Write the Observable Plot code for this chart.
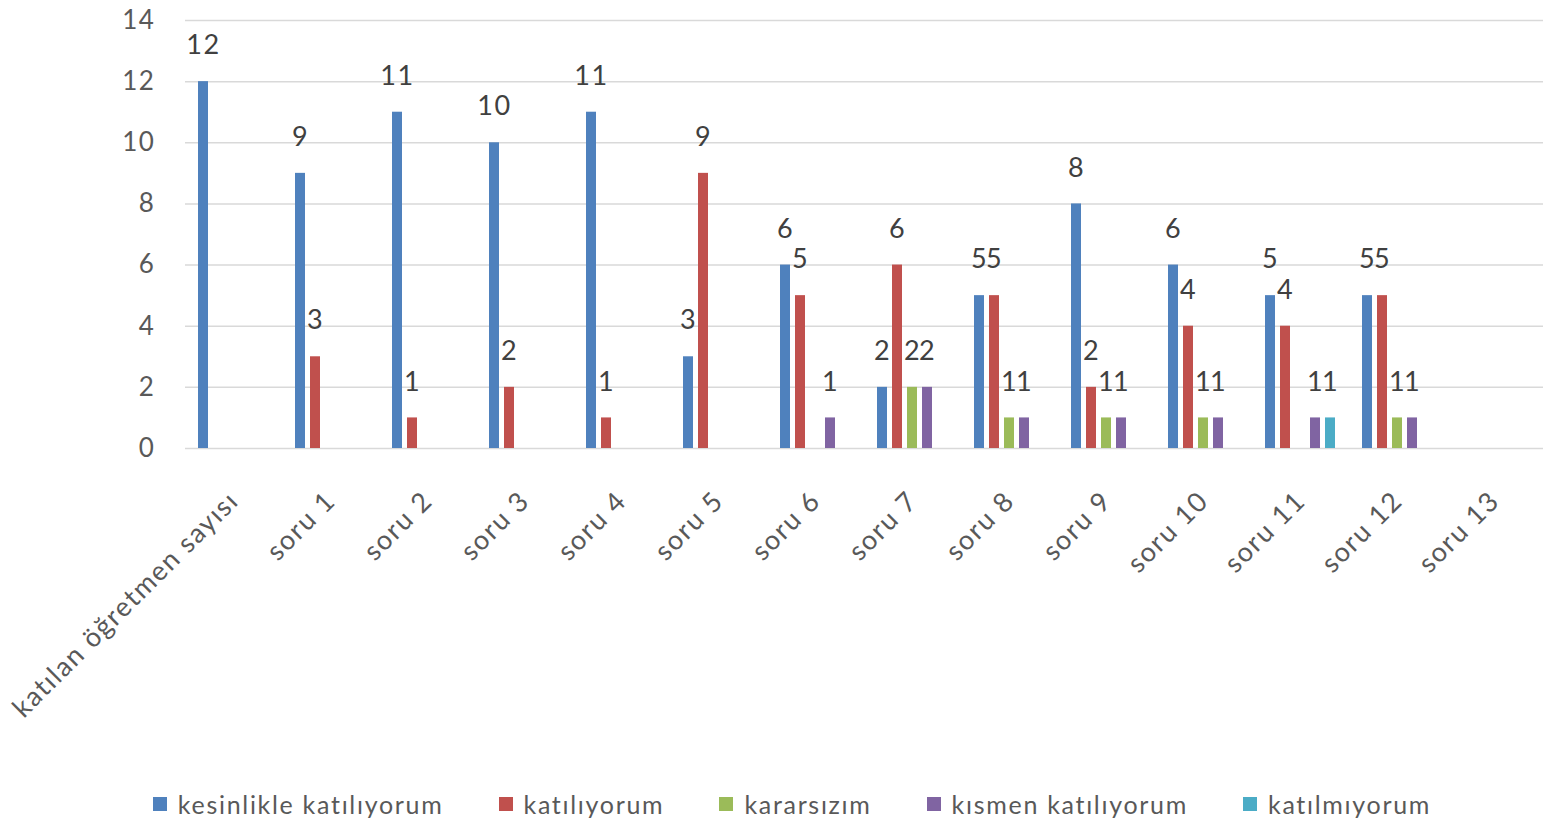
<!DOCTYPE html>
<html>
<head>
<meta charset="utf-8">
<script src="https://cdn.jsdelivr.net/npm/d3@7"></script>
<script src="https://cdn.jsdelivr.net/npm/@observablehq/plot@0.6"></script>
<style>
  body { margin: 0; background: #fff; font-family: Lato, "Open Sans", sans-serif; }
  #chart svg text { letter-spacing: 1.6px; }
  #legend { display: flex; justify-content: center; align-items: center; gap: 55px; height: 47px; font-size: 25px; letter-spacing: 1.7px; color: #595959; padding-left: 40px; }
  #legend .item { display: flex; align-items: center; gap: 11px; }
  #legend .sw { width: 14px; height: 14px; display: inline-block; }
</style>
</head>
<body>
<div id="chart"></div>
<div id="legend"></div>
<script>
const categories = ["katılan öğretmen sayısı", "soru 1", "soru 2", "soru 3", "soru 4", "soru 5", "soru 6", "soru 7", "soru 8", "soru 9", "soru 10", "soru 11", "soru 12", "soru 13"];
const seriesNames = ["kesinlikle katılıyorum", "katılıyorum", "kararsızım", "kısmen katılıyorum", "katılmıyorum"];
const seriesColors = ["#4F81BD", "#C0504D", "#9BBB59", "#8064A2", "#4BACC6"];
const kesinlikleKatiliyorum = [12, 9, 11, 10, 11, 3, 6, 2, 5, 8, 6, 5, 5, 0];
const katiliyorum          = [0, 3, 1, 2, 1, 9, 5, 6, 5, 2, 4, 4, 5, 0];
const kararsizim           = [0, 0, 0, 0, 0, 0, 0, 2, 1, 1, 1, 0, 1, 0];
const kismenKatiliyorum    = [0, 0, 0, 0, 0, 0, 1, 2, 1, 1, 1, 1, 1, 0];
const katilmiyorum         = [0, 0, 0, 0, 0, 0, 0, 0, 0, 0, 0, 1, 0, 0];
const yTicks = [0, 2, 4, 6, 8, 10, 12, 14];

const seriesValues = [kesinlikleKatiliyorum, katiliyorum, kararsizim, kismenKatiliyorum, katilmiyorum];
const data = [];
categories.forEach((c, i) => {
  seriesNames.forEach((s, j) => {
    data.push({category: c, series: s, value: seriesValues[j][i]});
  });
});
const nonZero = data.filter(d => d.value > 0);

const chart = Plot.plot({
  width: 1544,
  height: 780,
  marginLeft: 184,
  marginRight: 0,
  marginTop: 20,
  marginBottom: 332,
  style: {fontFamily: "Lato, 'Open Sans', sans-serif", fontSize: "27px", color: "#595959", background: "#fff"},
  fx: {domain: categories, padding: 0, label: null, tickRotate: -45, tickSize: 0, tickPadding: 48},
  x: {domain: seriesNames, axis: null, paddingInner: 0.31, paddingOuter: 0.7},
  y: {domain: [0, 14], axis: null},
  color: {domain: seriesNames, range: seriesColors},
  marks: [
    Plot.ruleY(yTicks, {stroke: "#d9d9d9", strokeWidth: 1.5}),
    Plot.axisY({ticks: yTicks, tickSize: 0, tickPadding: 30, fontSize: 26, fill: "#595959", label: null}),
    Plot.barY(data, {fx: "category", x: "series", y: "value", fill: "series"}),
    Plot.text(nonZero, {fx: "category", x: "series", y: "value", text: d => String(d.value), dy: -36, fontSize: 27, fill: "#404040"})
  ]
});
document.getElementById("chart").appendChild(chart);

const legend = document.getElementById("legend");
seriesNames.forEach((s, i) => {
  const item = document.createElement("div");
  item.className = "item";
  const sw = document.createElement("span");
  sw.className = "sw";
  sw.style.background = seriesColors[i];
  const t = document.createElement("span");
  t.textContent = s;
  item.appendChild(sw);
  item.appendChild(t);
  legend.appendChild(item);
});
</script>
</body>
</html>
